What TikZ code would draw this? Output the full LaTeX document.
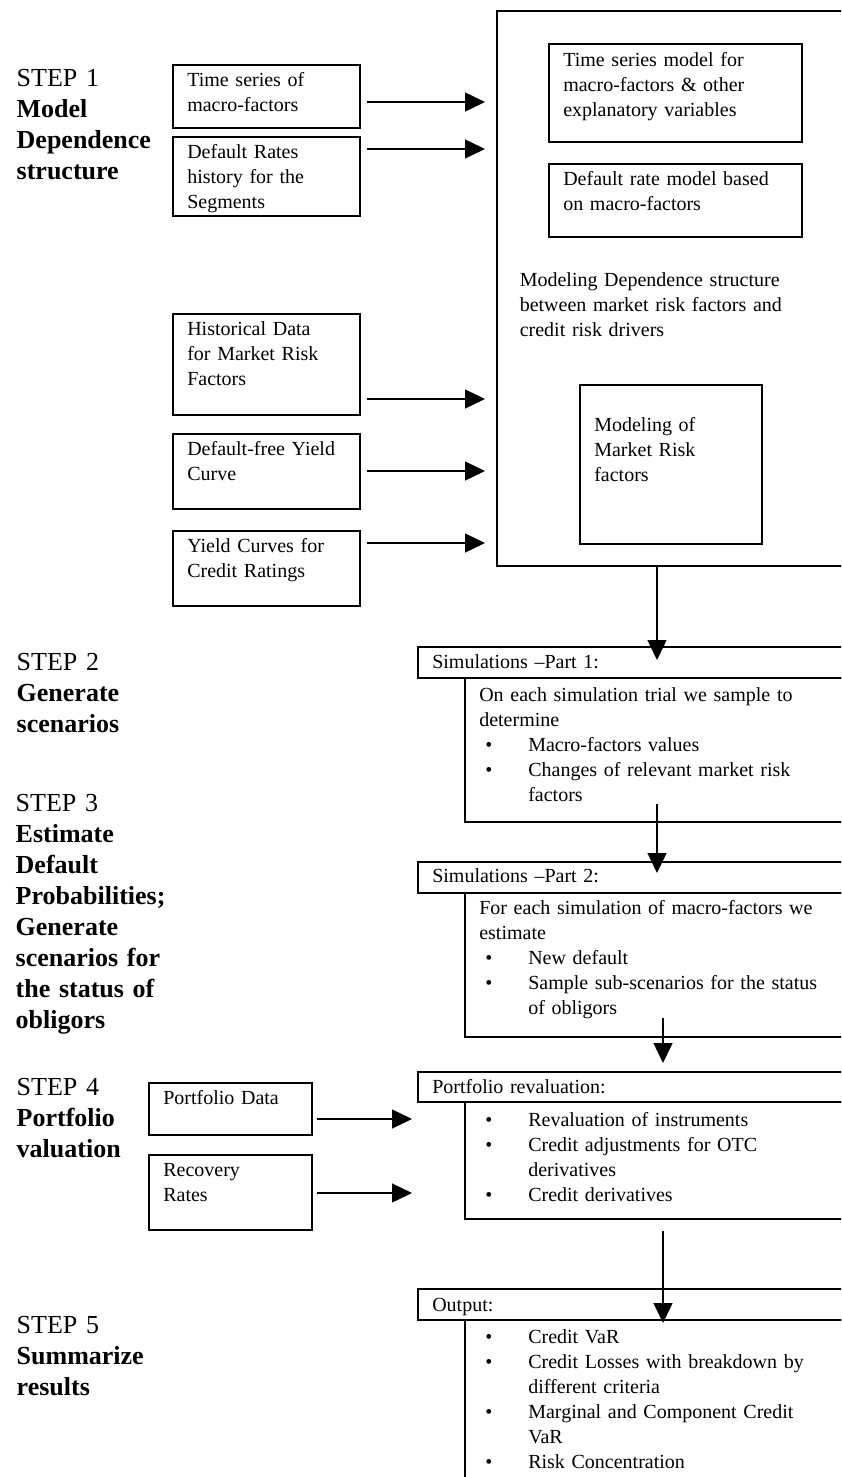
\documentclass[tikz,border=0pt]{standalone}
\usepackage{fontspec}
\setmainfont{Liberation Serif}
\usetikzlibrary{arrows.meta}
\tikzstyle{box}=[draw, line width=1.6pt, anchor=north west, align=left, inner xsep=14.5pt, inner ysep=0pt, font={\fontsize{20}{25}\selectfont}]
\tikzstyle{stage}=[anchor=base west, align=left, inner sep=0pt, text width=150pt, font={\fontsize{26}{31}\selectfont}]
\newcommand{\bul}{\makebox[49pt][l]{\hspace{6pt}\textbullet}}
\newcommand{\ind}{\hspace*{49pt}}

\begin{document}
\begin{tikzpicture}[x=1pt, y=-1pt, line width=1.4pt, >={Triangle[length=20pt,width=19pt]}]
\useasboundingbox (0,0) rectangle (841,1477);
\clip (0,0) rectangle (841,1477);
% steps on the left
\node[stage] at (16,87) (s1) {STEP 1\\{\bfseries Model\\Dependence\\structure}};
\node[stage] at (16,670) (s2) {STEP 2\\{\bfseries Generate\\scenarios}};
\node[stage] at (15,811) (s3) {STEP 3\\{\bfseries Estimate\\Default\\Probabilities;\\Generate\\scenarios for\\the status of\\obligors}};
\node[stage] at (16,1095) (s4) {STEP 4\\{\bfseries Portfolio\\valuation}};
\node[stage] at (16,1333) (s5) {STEP 5\\{\bfseries Summarize\\results}};
% input data
\node[box, text width=158pt, text height=22pt, text depth=41pt] at (172,64) (ts) {Time series of\\macro-factors};
\node[box, text width=158pt, text height=22pt, text depth=57pt] at (172,136) (dr) {Default Rates\\history for the\\Segments};
\node[box, text width=158pt, text height=22pt, text depth=79pt] at (172,313) (hd) {Historical Data\\for Market Risk\\Factors};
\node[box, text width=158pt, text height=22pt, text depth=53pt] at (172,433) (dfy) {Default-free Yield\\Curve};
\node[box, text width=158pt, text height=22pt, text depth=53pt] at (172,530) (yc) {Yield Curves for\\Credit Ratings};
% dependence model
\node[box, inner xsep=23pt, text width=328pt, text height=276pt, text depth=279pt] at (496,10) (dep) {Modeling Dependence structure\\between market risk factors and\\credit risk drivers};
\node[box, text width=224pt, text height=23pt, text depth=75pt] at (548,43) (tsm) {Time series model for\\macro-factors \& other\\explanatory variables};
\node[box, text width=224pt, text height=22pt, text depth=51pt] at (548,163) (drm) {Default rate model based\\on macro-factors};
\node[box, text width=153pt, text height=47pt, text depth=112pt] at (579,384) (mrf) {Modeling of\\Market Risk\\factors};
% simulations
\node[box, text width=424pt, text height=22pt, text depth=9pt] at (417,646) (sim1h) {Simulations –Part 1:};
\node[box, text width=377pt, text height=24pt, text depth=120pt] at (464,677) (sim1b) {On each simulation trial we sample to\\determine\\\bul Macro-factors values\\\bul Changes of relevant market risk\\\ind factors};
\node[box, text width=424pt, text height=21pt, text depth=10pt] at (417,861) (sim2h) {Simulations –Part 2:};
\node[box, text width=377pt, text height=22pt, text depth=122pt] at (464,892) (sim2b) {For each simulation of macro-factors we\\estimate\\\bul New default\\\bul Sample sub-scenarios for the status\\\ind of obligors};
% valuation
\node[box, text width=134pt, text height=22pt, text depth=30pt] at (148,1082) (pd) {Portfolio Data};
\node[box, text width=134pt, text height=22pt, text depth=53pt] at (148,1154) (rr) {Recovery\\Rates};
\node[box, text width=424pt, text height=22pt, text depth=8pt] at (417,1071) (pfh) {Portfolio revaluation:};
\node[box, text width=377pt, text height=25pt, text depth=92pt] at (464,1101) (pfb) {\bul Revaluation of instruments\\\bul Credit adjustments for OTC\\\ind derivatives\\\bul Credit derivatives};
% output
\node[box, text width=424pt, text height=23pt, text depth=8pt] at (417,1288) (outh) {Output:};
\node[box, text width=377pt, text height=24pt, text depth=200pt] at (464,1319) (outb) {\bul Credit VaR\\\bul Credit Losses with breakdown by\\\ind different criteria\\\bul Marginal and Component Credit\\\ind VaR\\\bul Risk Concentration};
% arrows
\coordinate (in1) at (485,102);
\coordinate (in2) at (485,149);
\coordinate (in3) at (485,399);
\coordinate (in4) at (485,471);
\coordinate (in5) at (485,543);
\draw[->, shorten <=6pt] (ts.east |- in1) -- (in1);
\draw[->, shorten <=6pt] (dr.east |- in2) -- (in2);
\draw[->, shorten <=6pt] (hd.east |- in3) -- (in3);
\draw[->, shorten <=6pt] (dfy.east |- in4) -- (in4);
\draw[->, shorten <=6pt] (yc.east |- in5) -- (in5);
\coordinate (t1) at (657,660);
\coordinate (t2) at (657,873);
\coordinate (t3) at (663,1063);
\coordinate (t4) at (663,1323);
\draw[->] (dep.south -| t1) -- (t1);
\draw[->] (sim1b.south -| t2) ++(0,-19) -- (t2);
\draw[->] (sim2b.south -| t3) ++(0,-20) -- (t3);
\draw[->, shorten <=11pt] (pfb.south -| t4) -- (t4);
\coordinate (in6) at (412,1119);
\coordinate (in7) at (412,1193);
\draw[->, shorten <=4pt] (pd.east |- in6) -- (in6);
\draw[->, shorten <=4pt] (rr.east |- in7) -- (in7);
\end{tikzpicture}
\end{document}
